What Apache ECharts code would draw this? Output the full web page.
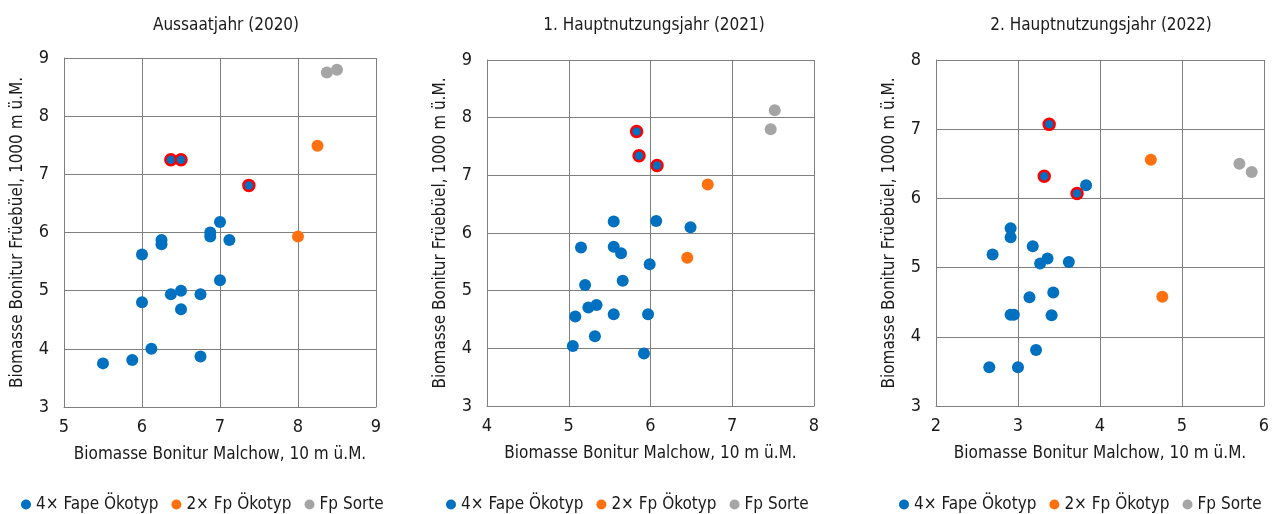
<!DOCTYPE html>
<html>
<head>
<meta charset="utf-8">
<title>Biomasse Bonitur Malchow vs Früebüel</title>
<script src="https://cdn.jsdelivr.net/npm/echarts@6/dist/echarts.min.js"></script>
<style>
  html, body { margin: 0; padding: 0; background: #fff; }
  #chart { width: 1276px; height: 514px; }
</style>
</head>
<body>
<div id="chart"></div>
<script>
// Panel titles and legend names
const panelTitles = ['Aussaatjahr (2020)', '1. Hauptnutzungsjahr (2021)', '2. Hauptnutzungsjahr (2022)'];
const groupNames = ['4× Fape Ökotyp', '2× Fp Ökotyp', 'Fp Sorte'];

// Axis ranges [min, max] per panel
const xRanges = [[5, 9], [4, 8], [2, 6]];
const yRanges = [[3, 9], [3, 9], [3, 8]];

// 2020 – [Malchow, Früebüel]
const fape2020 = [
  [5.5, 3.75], [5.875, 3.81], [6.12, 4.0], [6.75, 3.87], [6.0, 4.8], [6.0, 5.62],
  [6.37, 4.94], [6.5, 5.0], [6.5, 4.68], [6.75, 4.94], [7.0, 5.18], [6.25, 5.87],
  [6.25, 5.8], [6.875, 6.0], [6.875, 5.93], [7.0, 6.18], [7.12, 5.87]
];
const fapeMarked2020 = [[6.37, 7.25], [6.5, 7.25], [7.37, 6.81]];
const fp2020 = [[8.25, 7.49], [8.0, 5.93]];
const sorte2020 = [[8.37, 8.75], [8.5, 8.8]];

// 2021
const fape2021 = [
  [5.05, 4.04], [5.08, 4.55], [5.24, 4.71], [5.34, 4.75], [5.32, 4.21], [5.55, 4.59],
  [5.92, 3.91], [5.97, 4.59], [5.2, 5.1], [5.66, 5.17], [5.99, 5.46], [5.15, 5.75],
  [5.55, 5.76], [5.64, 5.65], [5.55, 6.2], [6.07, 6.21], [6.49, 6.1]
];
const fapeMarked2021 = [[5.83, 7.76], [5.86, 7.34], [6.08, 7.17]];
const fp2021 = [[6.7, 6.84], [6.45, 5.57]];
const sorte2021 = [[7.52, 8.13], [7.47, 7.8]];

// 2022
const fape2022 = [
  [2.65, 3.56], [3.0, 3.56], [3.22, 3.81], [2.91, 4.32], [2.95, 4.32], [3.41, 4.31],
  [3.14, 4.57], [3.43, 4.64], [2.69, 5.19], [2.91, 5.44], [2.91, 5.57], [3.18, 5.31],
  [3.27, 5.06], [3.36, 5.13], [3.62, 5.08], [3.83, 6.19]
];
const fapeMarked2022 = [[3.38, 7.07], [3.32, 6.32], [3.72, 6.07]];
const fp2022 = [[4.62, 6.56], [4.76, 4.58]];
const sorte2022 = [[5.7, 6.5], [5.85, 6.38]];

const fapeByPanel = [fape2020, fape2021, fape2022];
const markedByPanel = [fapeMarked2020, fapeMarked2021, fapeMarked2022];
const fpByPanel = [fp2020, fp2021, fp2022];
const sorteByPanel = [sorte2020, sorte2021, sorte2022];

const colors = ['#0070C0', '#FF700F', '#A5A5A5'];
const font = '"DejaVu Sans Condensed", "DejaVu Sans", sans-serif';
const textColor = '#1a1a1a';
const gridColor = '#7f7f7f';

const grids = [
  { left: 64, top: 58, width: 312, height: 349 },
  { left: 487, top: 60, width: 327, height: 346 },
  { left: 936, top: 60, width: 328, height: 346 }
];
const titleCenters = [221, 649, 1096];
const legendLefts = [16, 441, 894];

const chart = echarts.init(document.getElementById('chart'));

const xAxes = [], yAxes = [], titles = [], legends = [], series = [];
grids.forEach((g, i) => {
  titles.push({
    text: panelTitles[i],
    left: titleCenters[i],
    top: 12,
    textAlign: 'center',
    textStyle: { fontFamily: font, fontSize: 17, fontWeight: 'normal', color: textColor }
  });
  legends.push({
    data: groupNames,
    left: legendLefts[i],
    top: 491,
    width: 420,
    icon: 'circle',
    itemWidth: 10,
    itemHeight: 10,
    itemGap: 13,
    selectedMode: false,
    textStyle: { fontFamily: font, fontSize: 17, color: textColor }
  });
  xAxes.push({
    gridIndex: i,
    type: 'value',
    min: xRanges[i][0],
    max: xRanges[i][1],
    interval: 1,
    name: 'Biomasse Bonitur Malchow, 10 m ü.M.',
    nameLocation: 'middle',
    nameGap: 39,
    nameTextStyle: { fontFamily: font, fontSize: 17, color: textColor },
    axisLine: { show: true, lineStyle: { color: gridColor, width: 1 } },
    axisTick: { show: false },
    axisLabel: { fontFamily: font, fontSize: 18, color: textColor, margin: 11 },
    splitLine: { show: true, lineStyle: { color: gridColor, width: 1 } }
  });
  yAxes.push({
    gridIndex: i,
    type: 'value',
    min: yRanges[i][0],
    max: yRanges[i][1],
    interval: 1,
    name: 'Biomasse Bonitur Früebüel, 1000 m ü.M.',
    nameLocation: 'middle',
    nameGap: 38,
    nameTextStyle: { fontFamily: font, fontSize: 17, color: textColor },
    axisLine: { show: true, lineStyle: { color: gridColor, width: 1 } },
    axisTick: { show: false },
    axisLabel: { fontFamily: font, fontSize: 18, color: textColor, margin: 15 },
    splitLine: { show: true, lineStyle: { color: gridColor, width: 1 } }
  });

  const marked = markedByPanel[i].map(p => ({
    value: p,
    symbolSize: 11,
    itemStyle: { borderColor: '#FF0000', borderWidth: 2.5 }
  }));
  const groups = [fapeByPanel[i].concat(marked), fpByPanel[i], sorteByPanel[i]];
  groups.forEach((d, k) => {
    series.push({
      name: groupNames[k],
      type: 'scatter',
      xAxisIndex: i,
      yAxisIndex: i,
      symbol: 'circle',
      symbolSize: 12,
      itemStyle: { color: colors[k], opacity: 1 },
      data: d,
      z: k === 0 ? 3 : 2
    });
  });
});

chart.setOption({
  animation: false,
  color: colors,
  title: titles,
  legend: legends,
  grid: grids,
  xAxis: xAxes,
  yAxis: yAxes,
  series: series
});
</script>
</body>
</html>
